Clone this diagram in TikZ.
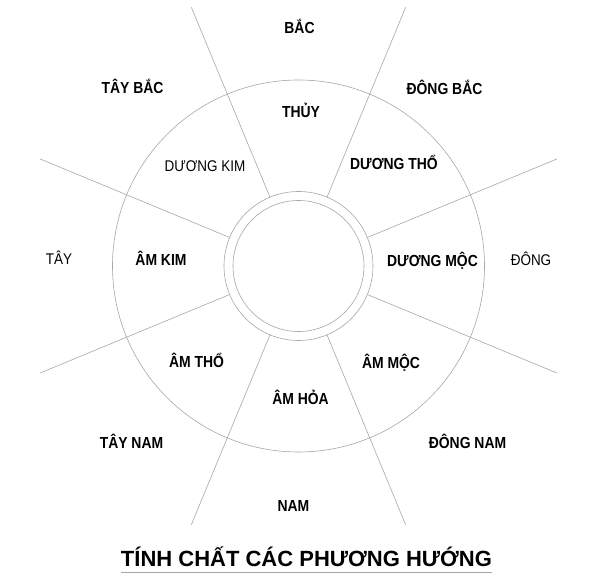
\documentclass[tikz,border=0pt]{standalone}
\usepackage{fontspec}
\newfontfamily\narrowfont{Liberation Sans}[FakeStretch=0.87]
\newfontfamily\headfont{Liberation Sans}
\usepackage{tikz}

\begin{document}
\begin{tikzpicture}[x=1pt, y=1pt,
        ring/.style={draw=black!35, line width=0.6pt},
        spoke/.style={draw=black!35, line width=0.6pt},
        boldtext/.style={font=\narrowfont\bfseries\fontsize{16}{18}\selectfont, inner sep=0pt, text height=11.5pt, text depth=0pt},
        plaintext/.style={font=\narrowfont\fontsize{15.5}{18}\selectfont, inner sep=0pt, text height=11.1pt, text depth=0pt},
        heading/.style={font=\headfont\bfseries\fontsize{22}{26}\selectfont, inner sep=0pt, text height=15.8pt, text depth=0pt}
    ]
    \useasboundingbox (-298.5,-317) rectangle (301.5,266);

    \coordinate (tam) at (0,0);
    \draw[ring] (tam) circle (186);
    \draw[ring] (tam) circle (74.5);
    \draw[ring] (tam) circle (65.5);

    % Tia phan chia
    \foreach \goc in {22.5,67.5,...,337.5}
        \draw[spoke] (\goc:74.5) -- (\goc:280);

    % Phuong huong
    \node[boldtext] (bac) at (1,238.5) {BẮC};
    \node[boldtext] (taybac) at (-166,178) {TÂY BẮC};
    \node[boldtext] (dongbac) at (146,177) {ĐÔNG BẮC};
    \node[plaintext] (tay) at (-239.5,7) {TÂY};
    \node[plaintext] (dong) at (232.5,6) {ĐÔNG};
    \node[boldtext] (taynam) at (-167,-177) {TÂY NAM};
    \node[boldtext] (dongnam) at (169,-177) {ĐÔNG NAM};
    \node[boldtext] (nam) at (-5,-239.5) {NAM};

    % Tinh chat
    \node[boldtext] (thuy) at (2.5,154) {THỦY};
    \node[plaintext] (duongkim) at (-93.5,100.5) {DƯƠNG KIM};
    \node[boldtext] (duongtho) at (95.5,102) {DƯƠNG THỔ};
    \node[boldtext] (amkim) at (-137.5,6) {ÂM KIM};
    \node[boldtext] (duongmoc) at (134,5.3) {DƯƠNG MỘC};
    \node[boldtext] (amtho) at (-102,-96) {ÂM THỔ};
    \node[boldtext] (ammoc) at (92.5,-97) {ÂM MỘC};
    \node[boldtext] (amhoa) at (2,-133) {ÂM HỎA};

    \node[heading] (title) at (8,-293) {TÍNH CHẤT CÁC PHƯƠNG HƯỚNG};
    \draw[draw=black!35, line width=0.9pt] ([yshift=-6pt]title.base west) -- ([yshift=-6pt]title.base east);
\end{tikzpicture}
\end{document}
